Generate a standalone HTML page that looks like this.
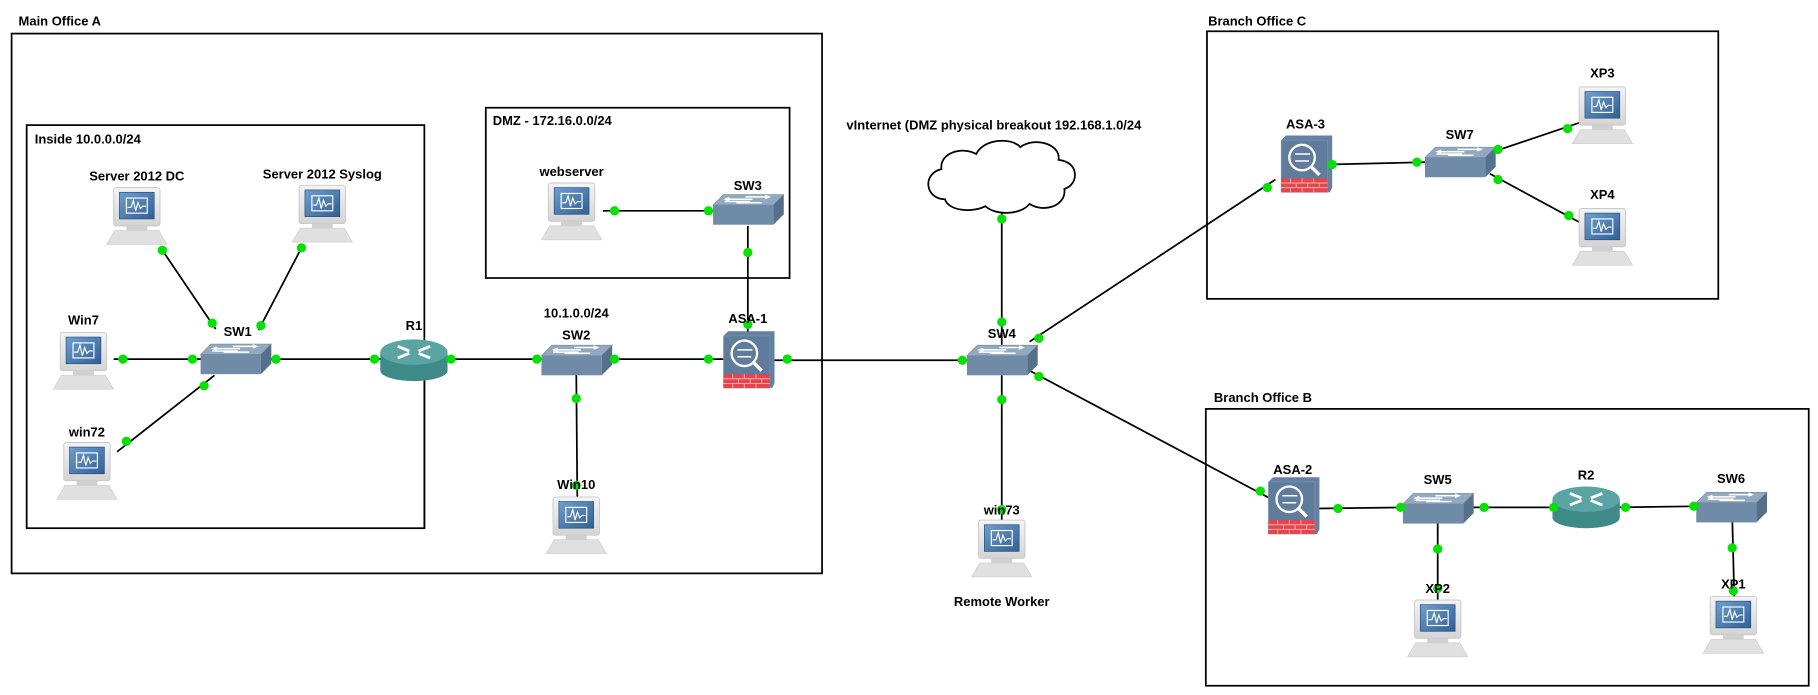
<!DOCTYPE html>
<html><head><meta charset="utf-8"><style>
html,body{margin:0;padding:0;background:#fff;}
svg{display:block;}
text{font-family:"Liberation Sans",sans-serif;font-weight:bold;font-size:11.2px;fill:#000;}
</style></head><body>
<svg width="1818" height="695" viewBox="0 0 1568 600" preserveAspectRatio="none" xmlns="http://www.w3.org/2000/svg">
<defs>
<linearGradient id="scr" x1="0" y1="0" x2="1" y2="1"><stop offset="0" stop-color="#6f9fd0"/><stop offset="1" stop-color="#2f5f95"/></linearGradient>
<linearGradient id="mon" x1="0" y1="0" x2="0" y2="1"><stop offset="0" stop-color="#f4f4f4"/><stop offset="1" stop-color="#d4d4d4"/></linearGradient>
<g id="pc">
<rect x="-20" y="-23" width="40" height="33" rx="2" fill="url(#mon)" stroke="#c8c8c8" stroke-width="0.8"/>
<rect x="-15" y="-19" width="30" height="23" fill="url(#scr)" stroke="#28507a" stroke-width="0.6"/>
<rect x="-9" y="-14" width="18" height="13" fill="none" stroke="#fff" stroke-width="1"/>
<polyline points="-8,-6 -5,-6 -3,-12 -1,-3 1,-10 3,-5 5,-7 8,-7" fill="none" stroke="#fff" stroke-width="1"/>
<rect x="-9" y="10" width="18" height="4" fill="#d0d0d0"/>
<polygon points="-19,14 19,14 26,26 -26,26" fill="#e0e0e0" stroke="#cfcfcf" stroke-width="0.6"/>
</g>
<g id="sw">
<polygon points="-30,-4 -21,-13 31,-13 22,-4" fill="#93a9c0" stroke="#6f879f" stroke-width="0.5"/>
<rect x="-30" y="-4" width="52" height="17" fill="#6f8ba8"/>
<polygon points="22,-4 31,-13 31,4 22,13" fill="#56708c"/>
<path d="M-18,-9 L4,-9 M-10,-6 L12,-6 M-2,-11 L18,-11 M-20,-7 L2,-7" stroke="#fff" stroke-width="1.3"/>
<polygon points="-21,-9 -16,-11 -16,-7" fill="#fff"/><polygon points="20,-11 15,-13 15,-9" fill="#fff"/>
</g>
<g id="rt">
<rect x="-29" y="-6" width="58" height="16" fill="#3e8a88"/>
<ellipse cx="0" cy="10" rx="29" ry="9" fill="#3e8a88"/>
<ellipse cx="0" cy="-6" rx="29" ry="11" fill="#5aa5a3"/>
<path d="M-14,-11 L-4,-7 M14,-11 L4,-7 M-14,-1 L-4,-5 M14,-1 L4,-5" stroke="#fff" stroke-width="2.5"/>
</g>
<g id="asa">
<polygon points="-21,-21 -17,-25 23,-25 23,20 21,24 -21,24" fill="#6481a2"/>
<rect x="-21" y="-21" width="40" height="45" fill="#5f7c9c" stroke="#7d97b3" stroke-width="0.5"/>
<rect x="-21" y="12" width="40" height="12" fill="#e8444c"/>
<path d="M-21,16 H19 M-21,20 H19 M-13,12 V16 M-3,12 V16 M7,12 V16 M-8,16 V20 M2,16 V20 M12,16 V20 M-13,20 V24 M-3,20 V24 M7,20 V24" stroke="#f5b0b0" stroke-width="0.8"/>
<circle cx="-3" cy="-6" r="11" fill="none" stroke="#fff" stroke-width="2"/>
<line x1="5" y1="2" x2="12" y2="9" stroke="#fff" stroke-width="3"/>
<path d="M-9,-9 H4 M3,-3 H-9" stroke="#fff" stroke-width="1.3"/>
</g>
<circle id="d" r="4" fill="#00e400"/>
</defs>

<!-- boxes -->
<g fill="none" stroke="#000" stroke-width="1.5">
<rect x="10" y="29" width="699" height="466"/>
<rect x="23" y="108" width="343" height="348"/>
<rect x="419" y="93" width="262" height="147"/>
<rect x="1041" y="27" width="441" height="231"/>
<rect x="1040" y="353" width="520" height="239"/>
</g>
<text x="16" y="22">Main Office A</text>
<text x="30" y="124">Inside 10.0.0.0/24</text>
<text x="425" y="108">DMZ - 172.16.0.0/24</text>
<text x="730" y="112">vInternet (DMZ physical breakout 192.168.1.0/24</text>
<text x="1042" y="22">Branch Office C</text>
<text x="1047" y="347">Branch Office B</text>

<!-- links -->
<g stroke="#000" stroke-width="1.5">
<line x1="140" y1="216" x2="186" y2="284"/>
<line x1="260" y1="214" x2="223" y2="285"/>
<line x1="98" y1="310" x2="175" y2="310"/>
<line x1="101" y1="390" x2="185" y2="324"/>
<line x1="232" y1="310" x2="330" y2="310"/>
<line x1="385" y1="310" x2="470" y2="310"/>
<line x1="366" y1="320" x2="366" y2="456"/>
<line x1="524" y1="310" x2="624" y2="310"/>
<line x1="497" y1="320" x2="498" y2="440"/>
<line x1="520" y1="182" x2="618" y2="182"/>
<line x1="645" y1="195" x2="645" y2="290"/>
<line x1="667" y1="311" x2="840" y2="311"/>
<line x1="864" y1="180" x2="864" y2="300"/>
<line x1="888" y1="295" x2="1100" y2="155"/>
<line x1="888" y1="320" x2="1095" y2="430"/>
<line x1="864" y1="322" x2="864" y2="465"/>
<line x1="1145" y1="142" x2="1230" y2="140"/>
<line x1="1285" y1="132" x2="1368" y2="104"/>
<line x1="1285" y1="150" x2="1368" y2="195"/>
<line x1="1135" y1="439" x2="1215" y2="438"/>
<line x1="1265" y1="438" x2="1345" y2="438"/>
<line x1="1395" y1="438" x2="1470" y2="437"/>
<line x1="1240" y1="445" x2="1240" y2="530"/>
<line x1="1494" y1="445" x2="1496" y2="525"/>
</g>

<!-- cloud -->
<path d="M815,172 C798,172 795,150 812,146 C810,132 830,126 842,133 C848,120 872,118 880,127 C892,118 915,124 913,138 C932,140 930,160 918,163 C920,178 900,184 888,176 C880,186 858,186 850,178 C838,184 818,182 815,172 Z" fill="#fff" stroke="#000" stroke-width="1.5"/>

<!-- nodes -->
<use href="#pc" x="118" y="185"/>
<use href="#pc" x="278" y="183"/>
<use href="#pc" x="72" y="310"/>
<use href="#pc" x="75" y="405"/>
<use href="#pc" x="497" y="452"/>
<use href="#pc" x="493" y="181"/>
<use href="#pc" x="864" y="472"/>
<use href="#pc" x="1382" y="98"/>
<use href="#pc" x="1382" y="203"/>
<use href="#pc" x="1240" y="541"/>
<use href="#pc" x="1495" y="538"/>
<use href="#sw" x="203" y="310"/>
<use href="#sw" x="497" y="311"/>
<use href="#sw" x="645" y="181"/>
<use href="#sw" x="864" y="311"/>
<use href="#sw" x="1259" y="140"/>
<use href="#sw" x="1240" y="439"/>
<use href="#sw" x="1493" y="438"/>
<use href="#rt" x="357" y="310"/>
<use href="#rt" x="1368" y="437"/>
<use href="#asa" x="645" y="311"/>
<use href="#asa" x="1126" y="142"/>
<use href="#asa" x="1115" y="437"/>

<!-- dots -->
<use href="#d" x="140" y="216"/><use href="#d" x="183" y="279"/>
<use href="#d" x="260" y="214"/><use href="#d" x="225" y="281"/>
<use href="#d" x="106" y="310"/><use href="#d" x="166" y="310"/><use href="#d" x="238" y="310"/>
<use href="#d" x="109" y="381"/><use href="#d" x="176" y="333"/>
<use href="#d" x="323" y="310"/><use href="#d" x="389" y="310"/>
<use href="#d" x="463" y="310"/><use href="#d" x="530" y="310"/>
<use href="#d" x="611" y="310"/><use href="#d" x="679" y="310"/>
<use href="#d" x="497" y="344"/><use href="#d" x="497" y="419"/>
<use href="#d" x="530" y="182"/><use href="#d" x="611" y="182"/>
<use href="#d" x="645" y="218"/><use href="#d" x="645" y="280"/>
<use href="#d" x="830" y="311"/><use href="#d" x="864" y="189"/><use href="#d" x="864" y="278"/>
<use href="#d" x="896" y="292"/><use href="#d" x="1093" y="162"/>
<use href="#d" x="896" y="325"/><use href="#d" x="1087" y="424"/>
<use href="#d" x="864" y="345"/><use href="#d" x="864" y="440"/>
<use href="#d" x="1149" y="142"/><use href="#d" x="1222" y="140"/>
<use href="#d" x="1292" y="129"/><use href="#d" x="1352" y="111"/>
<use href="#d" x="1292" y="155"/><use href="#d" x="1353" y="186"/>
<use href="#d" x="1154" y="439"/><use href="#d" x="1208" y="438"/>
<use href="#d" x="1280" y="438"/><use href="#d" x="1340" y="438"/>
<use href="#d" x="1402" y="438"/><use href="#d" x="1461" y="437"/>
<use href="#d" x="1240" y="474"/><use href="#d" x="1240" y="508"/>
<use href="#d" x="1494" y="473"/><use href="#d" x="1495" y="510"/>

<!-- labels -->
<g text-anchor="middle">
<text x="118" y="156">Server 2012 DC</text>
<text x="278" y="154">Server 2012 Syslog</text>
<text x="72" y="280">Win7</text>
<text x="75" y="377">win72</text>
<text x="205" y="290">SW1</text>
<text x="357" y="285">R1</text>
<text x="497" y="274">10.1.0.0/24</text>
<text x="497" y="293">SW2</text>
<text x="497" y="422">Win10</text>
<text x="493" y="152">webserver</text>
<text x="645" y="164">SW3</text>
<text x="645" y="279">ASA-1</text>
<text x="864" y="292">SW4</text>
<text x="864" y="444">win73</text>
<text x="864" y="523">Remote Worker</text>
<text x="1126" y="111">ASA-3</text>
<text x="1259" y="120">SW7</text>
<text x="1382" y="67">XP3</text>
<text x="1382" y="172">XP4</text>
<text x="1115" y="409">ASA-2</text>
<text x="1240" y="418">SW5</text>
<text x="1368" y="414">R2</text>
<text x="1493" y="417">SW6</text>
<text x="1240" y="512">XP2</text>
<text x="1495" y="508">XP1</text>
</g>
</svg>
</body></html>
